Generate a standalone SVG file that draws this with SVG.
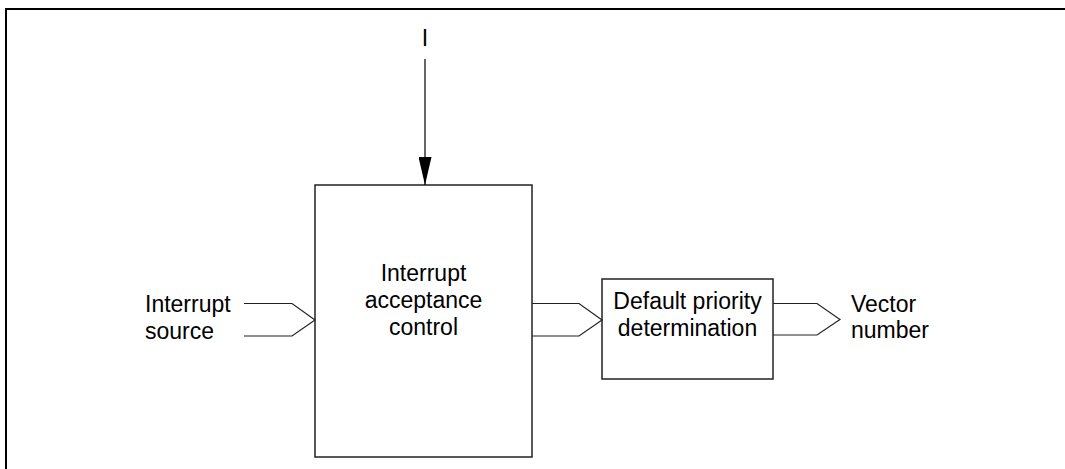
<svg xmlns="http://www.w3.org/2000/svg" width="1065" height="469" viewBox="0 0 1065 469">
<defs>
<style>
.t{font-family:"Liberation Sans",Arial,sans-serif;font-size:23px;fill:#000}
.c{text-anchor:middle}
.box{fill:#fff;stroke:#222;stroke-width:1.5}
.ln{fill:none;stroke:#222;stroke-width:1.2}
</style>
<marker id="ah" markerWidth="28" markerHeight="13" refX="28" refY="6.5" orient="auto" markerUnits="userSpaceOnUse" viewBox="0 0 28 13">
<path d="M0,0 L28,6.5 L0,13 Z" fill="#000"/>
</marker>
</defs>
<rect width="1065" height="469" fill="#fff"/>
<path d="M6,469 V9 H1065" fill="none" stroke="#000" stroke-width="2"/>
<g id="main">
<rect class="box" x="315" y="185" width="217" height="272"/>
<text class="t c" x="423.5" y="281">Interrupt</text>
<text class="t c" x="423.5" y="308">acceptance</text>
<text class="t c" x="423.5" y="335">control</text>
</g>
<g id="prio">
<rect class="box" x="602" y="279" width="171" height="100"/>
<text class="t c" x="687.5" y="309">Default priority</text>
<text class="t c" x="687.5" y="336">determination</text>
</g>
<g id="src">
<text class="t" x="145" y="312">Interrupt</text>
<text class="t" x="145" y="339">source</text>
</g>
<g id="vec">
<text class="t" x="851" y="312">Vector</text>
<text class="t" x="851" y="338">number</text>
</g>
<g id="i">
<text class="t c" x="425" y="46">I</text>
</g>
<g id="connectors">
<line class="ln" x1="425" y1="59" x2="425" y2="185" marker-end="url(#ah)" style="stroke:#000"/>
<path class="ln" d="M244,303.5 H292 L315,320 L292,336 H244"/>
<path class="ln" d="M532,303.5 H579 L602,320 L579,336 H532"/>
<path class="ln" d="M773,303.5 H817 L840,319.5 L817,335 H773"/>
</g>
</svg>
